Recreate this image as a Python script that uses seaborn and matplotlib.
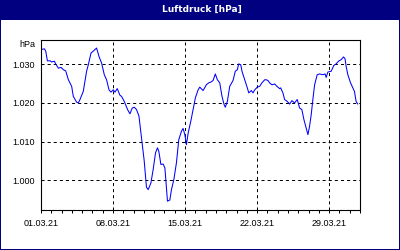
import numpy as np
import pandas as pd
import matplotlib
matplotlib.use("Agg")
import matplotlib.pyplot as plt
import matplotlib.dates as mdates
from matplotlib.ticker import FuncFormatter, FixedLocator
from matplotlib.patches import Rectangle
import seaborn as sns

# ---- data (days since 01.03.2021 00:00, pressure in hPa) ----
day_offsets = [
    0.01, 0.33, 0.46, 0.62, 0.88, 1.04, 1.30, 1.43, 1.69, 1.95, 2.17, 2.40, 2.66,
    2.98, 3.14, 3.46, 3.63, 3.79, 4.11, 4.43, 4.60, 4.86, 5.08, 5.31, 5.40, 5.64,
    5.89, 6.15, 6.37, 6.61, 6.80, 7.02, 7.19, 7.41, 7.67, 7.83, 8.09, 8.41, 8.64,
    8.87, 9.06, 9.28, 9.52, 9.77, 10.03, 10.25, 10.42, 10.68, 10.90, 11.13, 11.32,
    11.45, 11.65, 11.87, 12.04, 12.19, 12.29, 12.52, 12.68, 12.91, 13.16, 13.39,
    13.65, 13.81, 13.98, 14.13, 14.30, 14.56, 14.78, 15.00, 15.27, 15.43, 15.75,
    16.07, 16.30, 16.50, 16.72, 16.94, 17.14, 17.37, 17.59, 17.79, 17.91, 18.11,
    18.34, 18.66, 18.88, 19.08, 19.21, 19.41, 19.53, 19.80, 20.05, 20.19, 20.44,
    20.60, 20.77, 21.02, 21.25, 21.47, 21.74, 21.89, 22.06, 22.22, 22.44, 22.71,
    22.93, 23.19, 23.29, 23.51, 23.67, 23.93, 24.16, 24.38, 24.64, 24.90, 25.13,
    25.35, 25.55, 25.77, 25.94, 26.10, 26.26, 26.42, 26.59, 26.84, 27.07, 27.39,
    27.61, 27.71, 27.88, 28.20, 28.46, 28.68, 28.91, 29.17, 29.40, 29.55, 29.65,
    29.82, 30.08, 30.30, 30.46, 30.62, 30.79,
]
pressure_hpa = [
    1033.8, 1034.0, 1033.4, 1030.9, 1030.9, 1030.6, 1030.8, 1030.1, 1029.0, 1029.2,
    1028.6, 1028.3, 1026.0, 1024.3, 1021.7, 1020.2, 1020.0, 1020.9, 1023.0, 1028.2,
    1029.9, 1032.9, 1033.4, 1034.0, 1034.2, 1032.0, 1030.3, 1027.3, 1026.0, 1023.4,
    1022.8, 1023.4, 1022.8, 1023.7, 1022.0, 1021.7, 1020.4, 1018.3, 1017.2, 1018.7,
    1018.9, 1018.3, 1016.6, 1011.0, 1005.0, 998.2, 997.6, 999.3, 1002.8, 1007.1,
    1008.4, 1007.5, 1004.1, 1004.2, 1003.2, 998.0, 994.6, 994.9, 997.6, 1000.2,
    1004.5, 1010.5, 1012.7, 1013.4, 1011.8, 1009.2, 1012.2, 1015.3, 1018.3, 1021.3,
    1023.4, 1024.1, 1023.2, 1024.7, 1025.2, 1025.4, 1025.8, 1027.5, 1026.0, 1025.2,
    1021.7, 1019.6, 1018.9, 1020.4, 1024.3, 1025.8, 1028.2, 1028.6, 1030.1, 1029.9,
    1028.2, 1026.0, 1023.9, 1022.6, 1023.2, 1022.6, 1023.4, 1024.1, 1024.3, 1025.2,
    1026.0, 1026.0, 1025.8, 1025.2, 1024.7, 1024.9, 1024.3, 1023.7, 1023.9, 1022.6,
    1020.9, 1020.4, 1019.7, 1020.6, 1020.0, 1020.9, 1018.7, 1018.3, 1015.7, 1013.5,
    1011.8, 1014.0, 1017.0, 1020.9, 1024.7, 1027.3, 1027.5, 1027.3, 1027.5, 1026.6,
    1028.0, 1028.2, 1029.7, 1030.1, 1030.8, 1031.2, 1031.9, 1031.4, 1029.5, 1027.3,
    1025.2, 1023.9, 1023.0, 1020.4, 1019.7,
]
y_ticks = [1000, 1010, 1020, 1030]
x_tick_dates = ["2021-03-01", "2021-03-08", "2021-03-15", "2021-03-22", "2021-03-29"]
title_text = "Luftdruck [hPa]"
unit_text = "hPa"

start = pd.Timestamp("2021-03-01")
df = pd.DataFrame({
    "time": start + pd.to_timedelta(day_offsets, unit="D"),
    "p": pressure_hpa,
})

sns.set_style("white")
plt.rcParams["font.family"] = ["Liberation Sans", "DejaVu Sans"]
plt.rcParams["lines.scale_dashes"] = False

NAVY = "#000080"
fig = plt.figure(figsize=(4.0, 2.5), dpi=100, facecolor="white")
ax = fig.add_axes([41 / 400, 1 - 210 / 250, (360 - 41) / 400, (210 - 40) / 250])
ax.set_facecolor("white")

sns.lineplot(data=df, x="time", y="p", ax=ax, color="#0000FF", linewidth=0.75)

ax.set_xlim(start, pd.Timestamp("2021-04-01"))
ax.set_ylim(992.32, 1036.28)

ax.xaxis.set_major_locator(FixedLocator(mdates.date2num(pd.to_datetime(x_tick_dates))))
ax.xaxis.set_major_formatter(mdates.DateFormatter("%d.%m.%y"))
ax.xaxis.set_minor_locator(mdates.DayLocator())
ax.yaxis.set_major_locator(FixedLocator(y_ticks))
ax.yaxis.set_major_formatter(FuncFormatter(lambda v, p: f"{v:,.0f}".replace(",", ".")))

ax.set_xlabel("")
ax.set_ylabel("")
ax.tick_params(axis="x", which="both", direction="out", length=2.3, width=0.72,
               color="black", labelsize=6.5, pad=4.0, bottom=True)
ax.tick_params(axis="y", which="both", length=0, labelsize=6.5, pad=4.3, left=True)
for lab in ax.get_xticklabels() + ax.get_yticklabels():
    lab.set_color("black")

ax.grid(True, which="major", color="black", linewidth=0.72, linestyle=(0, (2.2, 2.2)))
ax.grid(False, which="minor")
for s in ax.spines.values():
    s.set_visible(True)
    s.set_color("black")
    s.set_linewidth(0.8)

# unit label above the y tick labels
fig.text(35.5 / 400, 1 - 44.5 / 250, unit_text, ha="right", va="center",
         fontsize=6.5, color="black")

# title bar and frame
fig.patches.append(Rectangle((0, 1 - 20 / 250), 1, 20 / 250, transform=fig.transFigure,
                             facecolor=NAVY, edgecolor="none", zorder=0))
fig.patches.append(Rectangle((0, 0), 1 / 400, 1, transform=fig.transFigure,
                             facecolor=NAVY, edgecolor="none", zorder=0))
fig.patches.append(Rectangle((1 - 1 / 400, 0), 1 / 400, 1, transform=fig.transFigure,
                             facecolor=NAVY, edgecolor="none", zorder=0))
fig.patches.append(Rectangle((0, 0), 1, 1.5 / 250, transform=fig.transFigure,
                             facecolor=NAVY, edgecolor="none", zorder=0))
fig.text(0.505, 1 - 9.5 / 250, title_text, ha="center", va="center", color="white",
         fontsize=6.5, fontweight="bold", family=["DejaVu Sans"])

fig.savefig("out.png", dpi=100, facecolor=fig.get_facecolor())
